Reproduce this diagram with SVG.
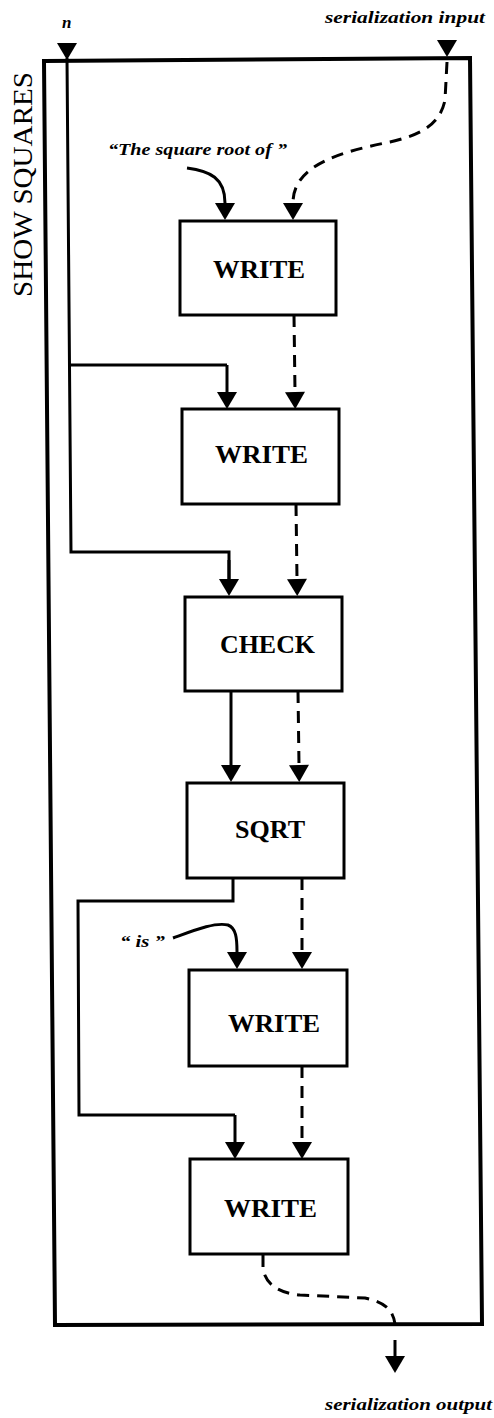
<svg xmlns="http://www.w3.org/2000/svg" width="494" height="1418" viewBox="0 0 494 1418">
<style>
.box{fill:#fff;stroke:#000;stroke-width:3}
.lbl{font-family:"Liberation Serif",serif;font-weight:bold;font-size:26px;text-anchor:middle;fill:#000}
.it{font-family:"Liberation Serif",serif;font-weight:bold;font-style:italic;font-size:17px;fill:#000}
.sol{fill:none;stroke:#000;stroke-width:3;marker-end:url(#ah)}
.dash{fill:none;stroke:#000;stroke-width:3;stroke-dasharray:12 8;marker-end:url(#ah)}
.plain{fill:none;stroke:#000;stroke-width:3}
.head{fill:#000}
</style>
<defs>
<marker id="ah" markerUnits="userSpaceOnUse" viewBox="0 -10 18 20" markerWidth="18" markerHeight="20" refX="0" refY="0" orient="auto" overflow="visible">
<path d="M0,-10 L17,0 L0,10 Z" fill="#000"/>
</marker>
</defs>
<rect width="494" height="1418" fill="#fff"/>
<g id="frame">
<path d="M44,61 L470,58 L482,1324 L55,1325 Z" fill="none" stroke="#000" stroke-width="4"/>
<text x="32" y="184.5" transform="rotate(-90 32 184.5)" font-family="'Liberation Serif',serif" font-size="27" text-anchor="middle" textLength="225" lengthAdjust="spacingAndGlyphs">SHOW SQUARES</text>
</g>
<g id="labels">
<text class="it" x="62" y="28">n</text>
<text class="it" x="325" y="23" textLength="160" lengthAdjust="spacingAndGlyphs">serialization input</text>
<text class="it" x="108" y="155" textLength="179" lengthAdjust="spacingAndGlyphs">“The square root of ”</text>
<text class="it" x="120" y="947" textLength="45" lengthAdjust="spacingAndGlyphs">“ is ”</text>
<text class="it" x="325" y="1410" textLength="167" lengthAdjust="spacingAndGlyphs">serialization output</text>
</g>
<g id="connectors">
<!-- n input -->
<path class="head" d="M57,43 L77,43 L67,60 Z"/>
<path class="plain" d="M67,58 L71,552 L229,552 L229,579"/>
<path class="plain" d="M70,365 L227,365"/>
<path class="sol" d="M227,365 L227,392"/>
<path class="sol" d="M229,560 L229,579"/>
<!-- serialization input -->
<path class="head" d="M437,40 L457,40 L447,57 Z"/>
<path class="dash" d="M447,62 L445,100 C 440,125 420,135 390,142 C 340,152 293,165 293,203"/>
<!-- string literal -->
<path class="sol" d="M187,168 C 210,171 225,178 225,203"/>
<!-- serial chain -->
<path class="dash" d="M294,315 L295,392"/>
<path class="dash" d="M296,504 L297,579"/>
<path class="sol" d="M231,691 L231,765"/>
<path class="dash" d="M298,691 L299,765"/>
<path class="plain" d="M233,878 L233,901 L78,901 L79,1115 L235,1115"/>
<path class="sol" d="M235,1115 L235,1142"/>
<path class="dash" d="M302,878 L302,952"/>
<path class="sol" d="M173,938 C 195,930 215,922 228,925 C 236,928 237,938 237,952"/>
<path class="dash" d="M302,1066 L302,1142"/>
<!-- serialization output -->
<path class="plain" d="M263,1255 L263,1268 C 265,1285 280,1293 300,1295 L 365,1298 C 385,1302 393,1310 395,1324" stroke-dasharray="12 8"/>
<path class="sol" d="M395,1340 L395,1356"/>
</g>
<g id="write1"><rect class="box" x="180" y="221" width="156" height="94"/><text class="lbl" x="259" y="278" textLength="92" lengthAdjust="spacingAndGlyphs">WRITE</text></g>
<g id="write2"><rect class="box" x="182" y="409" width="157" height="95"/><text class="lbl" x="261.5" y="463" textLength="93" lengthAdjust="spacingAndGlyphs">WRITE</text></g>
<g id="check"><rect class="box" x="185" y="597" width="157" height="94"/><text class="lbl" x="267.5" y="653" textLength="95" lengthAdjust="spacingAndGlyphs">CHECK</text></g>
<g id="sqrt"><rect class="box" x="187" y="783" width="157" height="95"/><text class="lbl" x="270" y="838" textLength="70" lengthAdjust="spacingAndGlyphs">SQRT</text></g>
<g id="write5"><rect class="box" x="189" y="970" width="158" height="96"/><text class="lbl" x="274" y="1032" textLength="92" lengthAdjust="spacingAndGlyphs">WRITE</text></g>
<g id="write6"><rect class="box" x="190" y="1159" width="158" height="95"/><text class="lbl" x="270.5" y="1217" textLength="93" lengthAdjust="spacingAndGlyphs">WRITE</text></g>
</svg>
